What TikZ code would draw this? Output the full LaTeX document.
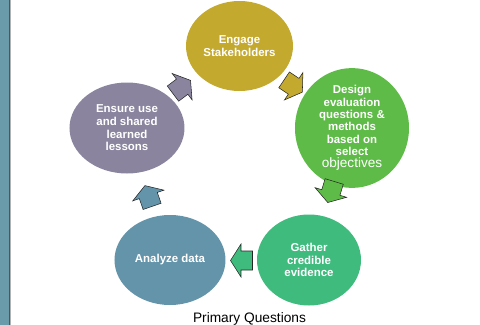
\documentclass[tikz,border=0pt]{standalone}
\usepackage{fontspec}
\setmainfont{Liberation Sans}
\usetikzlibrary{shapes.geometric,calc}
\definecolor{cbar}{HTML}{6A9BAB}
\definecolor{cbaredge}{HTML}{3C5C68}
\definecolor{cgold}{HTML}{C4A92F}
\definecolor{cgreen}{HTML}{5EBB47}
\definecolor{cteal}{HTML}{3FBB7E}
\definecolor{cblue}{HTML}{6494AA}
\definecolor{cpurple}{HTML}{8A849F}
\begin{document}
\begin{tikzpicture}[x=0.75pt,y=-0.75pt,
  stage/.style={ellipse, draw=none, inner sep=0pt, text=white, align=center,
    font=\bfseries\fontsize{8.6}{9.2}\selectfont},
  barrow/.pic={\path[pic actions] (-11,-9.5) -- (0.5,-9.5) -- (0.5,-16.5) -- (11,0) -- (0.5,16.5) -- (0.5,9.5) -- (-11,9.5) -- cycle;},
  arrowlook/.style={draw=black!85, line width=0.4pt}
]
\useasboundingbox (0,0) rectangle (480,325);
\begin{scope}
\clip (0,0) rectangle (480,325);
% left bar
\fill[cbar] (0,0) rectangle (9.3,325);
\draw[cbaredge, line width=0.9pt] (9.6,0) -- (9.6,325);
\draw[black!30, line width=0.5pt] (10.6,0) -- (10.6,325);

% stages
\node[stage, fill=cgold, minimum width=80.25pt, minimum height=67.5pt] (eng) at (239.5,46) {Engage\\Stakeholders};
\node[stage, fill=cgreen, minimum width=85.5pt, minimum height=67.5pt] (des) at (352,128)
  {Design\\evaluation\\questions \&\\methods\\based on\\select\\{\mdseries\fontsize{10.2}{10}\selectfont objectives}};
\node[stage, fill=cteal, minimum width=78pt, minimum height=68.25pt] (gat) at (309,260) {Gather\\credible\\evidence};
\node[stage, fill=cblue, minimum width=83.25pt, minimum height=67.5pt] (ana) at (170,260) {Analyze data};
\node[stage, fill=cpurple, minimum width=86.25pt, minimum height=68.25pt, font=\bfseries\fontsize{8.6}{9.5}\selectfont] (ens) at (127,128) {Ensure use\\and shared\\learned\\lessons};

% block arrows between stages
\coordinate (a1) at ($(eng)!0.5!(des)+(-2.5,-1)$);
\coordinate (a2) at ($(des)!0.5!(gat)+(0.5,-2)$);
\coordinate (a3) at ($(gat)!0.5!(ana)+(2,0.5)$);
\coordinate (a4) at ($(ana)!0.5!(ens)+(0,2)$);
\coordinate (a5) at ($(ens)!0.5!(eng)+(-1.5,0)$);
\pic[arrowlook, fill=cgold, rotate=-34] at (a1) {barrow};
\pic[arrowlook, fill=cgreen, rotate=-107] at (a2) {barrow};
\pic[arrowlook, fill=cteal, rotate=180] at (a3) {barrow};
\pic[arrowlook, fill=cblue, rotate=109] at (a4) {barrow};
\pic[arrowlook, fill=cpurple, rotate=37] at (a5) {barrow};

% caption
\node[anchor=base, inner sep=0pt, font=\fontsize{10.3}{12}\selectfont] (cap) at (249.5,322.5) {Primary Questions};
\end{scope}
\end{tikzpicture}
\end{document}
